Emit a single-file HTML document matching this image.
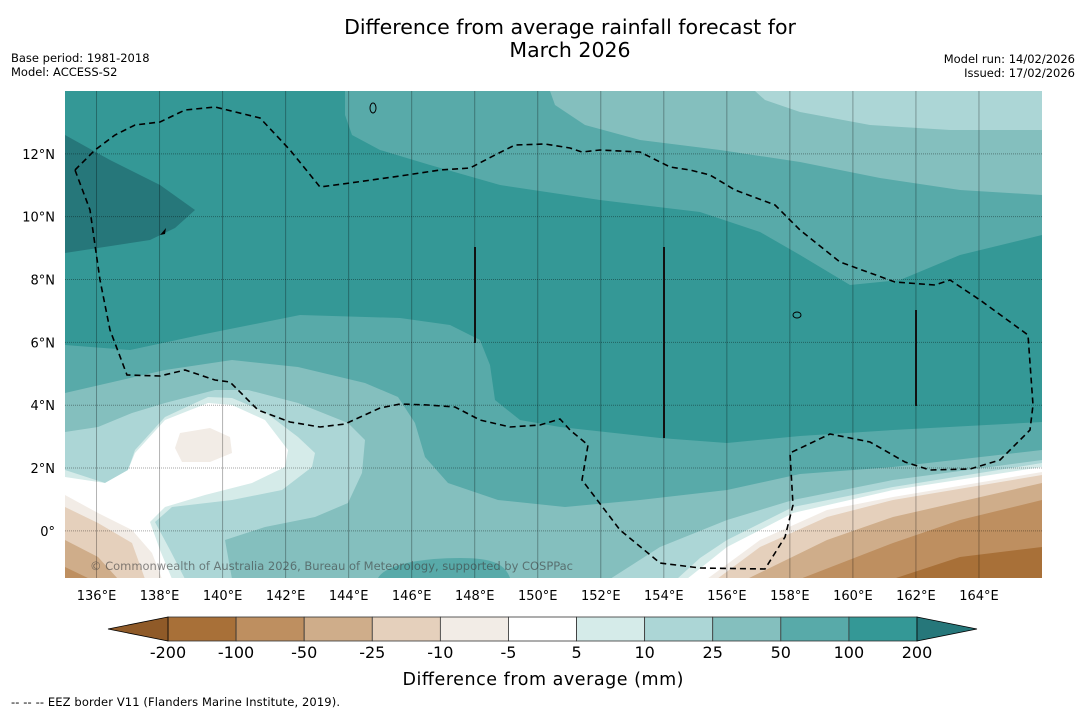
<!DOCTYPE html>
<html><head><meta charset="utf-8"><style>
body{margin:0;background:#fff;font-family:"DejaVu Sans","Liberation Sans",sans-serif;}
svg text{font-family:"DejaVu Sans","Liberation Sans",sans-serif;}
</style></head><body>
<svg id="chart" width="1085" height="713" xmlns="http://www.w3.org/2000/svg">
<text x="570" y="34" font-size="20.5" text-anchor="middle">Difference from average rainfall forecast for</text>
<text x="570" y="57" font-size="20.5" text-anchor="middle">March 2026</text>
<text x="11" y="62" font-size="11.5">Base period: 1981-2018</text>
<text x="11" y="76" font-size="11.5">Model: ACCESS-S2</text>
<text x="1075" y="63" font-size="11.5" text-anchor="end">Model run: 14/02/2026</text>
<text x="1075" y="77" font-size="11.5" text-anchor="end">Issued: 17/02/2026</text>
<defs><clipPath id="pc"><rect x="65" y="91" width="977" height="487"/></clipPath></defs>
<g clip-path="url(#pc)">
<rect x="65" y="91" width="977" height="487" fill="#349896"/>
<path fill="#26777a" d="M65,135 L110,160 160,185 195,210 175,228 150,240 65,253 Z"/>
<path fill="#58aaa9" d="M345,91 L345,115 352,135 380,150 430,165 500,185 600,200 700,212 760,232 800,255 850,285 900,280 960,255 1042,235 L1042,91 Z"/>
<path fill="#84bfbe" d="M550,91 L555,105 585,125 640,140 720,150 800,162 880,178 960,190 1042,195 L1042,91 Z"/>
<path fill="#acd6d6" d="M755,91 L765,100 800,112 870,125 950,130 1042,130 L1042,91 Z"/>
<path fill="#58aaa9" d="M65,345 L130,350 200,335 250,325 300,315 400,318 450,325 480,340 490,365 495,400 520,420 560,427 660,438 727,443 800,436 893,430 1042,422 L1042,578 L65,578 Z"/>
<path fill="#84bfbe" d="M65,393 L165,370 232,360 298,367 365,383 398,397 415,423 425,457 448,483 498,500 565,507 640,500 727,490 800,474 893,467 1042,450 L1042,578 L65,578 Z"/>
<path fill="#58aaa9" d="M378,578 C385,565 420,558 460,558 C495,558 505,565 510,578 Z"/>
<path fill="#acd6d6" d="M65,432 L98,427 132,413 165,403 215,390 248,390 298,403 348,423 365,440 362,473 348,503 315,517 265,527 225,540 232,579 L65,579 Z"/>
<path fill="#d5ebe9" d="M65,470 L105,483 128,470 135,450 165,417 208,397 232,398 265,412 298,437 315,453 312,467 282,490 232,500 172,507 155,522 170,550 185,579 L65,579 Z"/>
<path fill="#ffffff" d="M65,477 L105,483 128,470 135,453 165,420 208,403 232,405 265,420 288,450 285,467 252,483 205,495 165,507 150,522 160,550 172,579 L65,579 Z"/>
<path fill="#f2ece6" d="M175,448 L180,433 210,428 230,437 232,453 210,462 182,462 Z"/>
<path fill="#f2ece6" d="M65,495 L98,513 132,530 152,553 162,579 L65,579 Z"/>
<path fill="#e5d0bc" d="M65,507 L98,523 132,543 145,579 L65,579 Z"/>
<path fill="#cfad8a" d="M65,540 L98,557 118,579 L65,579 Z"/>
<path fill="#be8f60" d="M65,567 L90,579 L65,579 Z"/>
<path fill="#acd6d6" d="M610,579 L660,547 727,520 793,500 893,480 1042,460 L1042,579 Z"/>
<path fill="#d5ebe9" d="M677,579 L700,558 727,540 793,507 893,487 1042,463 L1042,579 Z"/>
<path fill="#ffffff" d="M687,579 L727,547 793,513 893,490 1042,467 L1042,579 Z"/>
<path fill="#f2ece6" d="M707,579 L760,540 827,510 893,497 1042,472 L1042,579 Z"/>
<path fill="#e5d0bc" d="M717,579 L760,547 827,517 893,500 1042,475 L1042,579 Z"/>
<path fill="#cfad8a" d="M747,579 L827,540 893,517 1042,483 L1042,579 Z"/>
<path fill="#be8f60" d="M800,579 L893,543 960,520 1042,500 L1042,579 Z"/>
<path fill="#a87038" d="M893,579 L960,557 1042,547 L1042,579 Z"/>
<g id="grid"></g>
<path fill="none" stroke="#000" stroke-width="1.6" stroke-dasharray="6,4" d="M75,170 L90,210 100,280 110,330 127,375 160,376 185,370 215,380 230,382 258,410 290,422 320,427 345,424 380,408 400,404 428,405 455,407 480,420 510,427 540,425 560,419 570,430 588,445 582,480 620,530 660,563 700,568 765,569 785,537 793,505 790,453 830,434 870,442 905,462 930,470 970,469 1000,460 1030,430 1033,405 1028,335 980,300 950,280 935,285 895,282 840,262 800,230 775,205 735,190 710,175 690,170 670,167 640,152 600,150 582,152 570,148 545,144 515,145 495,155 470,168 440,170 400,176 350,183 320,187 290,150 260,118 215,107 185,110 160,122 135,125 115,135 95,150 75,170"/>
<g stroke="#111" stroke-width="2">
<line x1="475" y1="247" x2="475" y2="343"/><line x1="664" y1="247" x2="664" y2="438"/><line x1="916" y1="310" x2="916" y2="406"/>
</g>
<path d="M160,235 L166,228 165,234 Z" fill="#000"/>
<ellipse cx="797" cy="315" rx="4" ry="3" fill="none" stroke="#000"/>
<ellipse cx="373" cy="108" rx="3" ry="5" fill="none" stroke="#000"/>
<text x="90" y="570" font-size="11.5" fill="rgba(60,60,60,0.6)" textLength="483">© Commonwealth of Australia 2026, Bureau of Meteorology, supported by COSPPac</text>
</g>
<g id="ticks"></g>
<g id="cbar"></g>
<text x="543" y="685" font-size="17.5" text-anchor="middle" textLength="281">Difference from average (mm)</text>
<text x="11" y="706" font-size="11.5" textLength="329">--  --  -- EEZ border V11 (Flanders Marine Institute, 2019).</text>
</svg>
<script>
const lonTicks=[136,138,140,142,144,146,148,150,152,154,156,158,160,162,164];
const latTicks=[0,2,4,6,8,10,12];
const levelLabels=["-200","-100","-50","-25","-10","-5","5","10","25","50","100","200"];
const levelColors=["#a87038","#be8f60","#cfad8a","#e5d0bc","#f2ece6","#ffffff","#d5ebe9","#acd6d6","#84bfbe","#58aaa9","#349896"];
const extColors=["#8f5a28","#26777a"];
const NS="http://www.w3.org/2000/svg";
const lonMin=135,lonMax=166,latMin=-1.5,latMax=14;
function X(lon){return 65+(lon-lonMin)/(lonMax-lonMin)*977;}
function Y(lat){return 91+(latMax-lat)/(latMax-latMin)*487;}
function mk(t,a,p){const e=document.createElementNS(NS,t);for(const k in a)e.setAttribute(k,a[k]);p.appendChild(e);return e;}
const grid=document.getElementById('grid'),ticks=document.getElementById('ticks'),cbar=document.getElementById('cbar');
lonTicks.forEach(l=>{
 const ln=mk('line',{x1:X(l),x2:X(l),y1:91,y2:578,stroke:'rgba(0,0,0,0.3)','stroke-width':1},grid);
 
 
 const t=mk('text',{x:X(l),y:600,'font-size':13,'text-anchor':'middle'},ticks);
 t.textContent=l+'°E';
 
 
});
latTicks.forEach(l=>{
 const ln=mk('line',{x1:65,x2:1042,y1:Y(l),y2:Y(l),stroke:'rgba(0,0,0,0.35)','stroke-width':1,'stroke-dasharray':'1,1'},grid);
 
 
 const t=mk('text',{x:55,y:Y(l)+5,'font-size':13,'text-anchor':'end'},ticks);
 t.textContent=l===0?'0°':l+'°N';
 
 
});
const cx0=168,cx1=917,cy0=617,cy1=641,n=levelColors.length,w=(cx1-cx0)/n;
function CX(i){return cx0+i*w;}
levelColors.forEach((c,i)=>{
 const r=mk('rect',{x:CX(i),y:cy0,width:w,height:cy1-cy0,fill:c,stroke:'#333','stroke-width':0.8},cbar);
 
 
});
const tl=mk('polygon',{points:`${cx0},${cy0} 108,${(cy0+cy1)/2} ${cx0},${cy1}`,fill:extColors[0],stroke:'#000','stroke-width':0.8},cbar);


const tr=mk('polygon',{points:`${cx1},${cy0} 977,${(cy0+cy1)/2} ${cx1},${cy1}`,fill:extColors[1],stroke:'#000','stroke-width':0.8},cbar);


levelLabels.forEach((s,i)=>{
 const t=mk('text',{x:CX(i),y:658,'font-size':16,'text-anchor':'middle'},cbar);
 t.textContent=s;
 
 
});
</script>
</body></html>
